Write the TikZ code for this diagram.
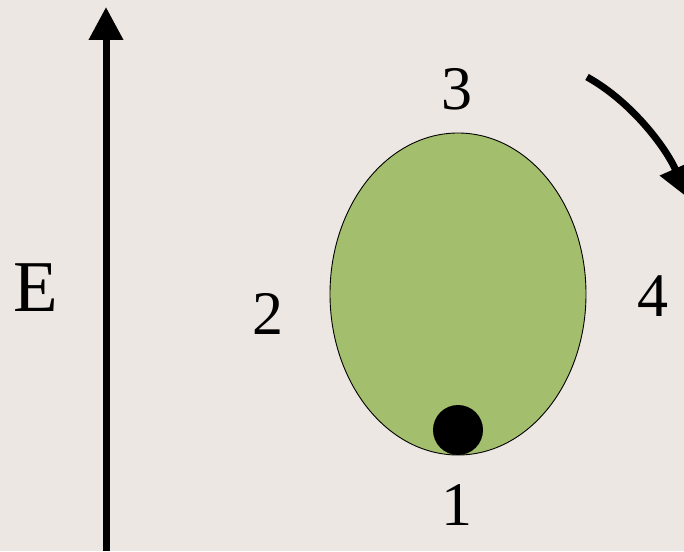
\documentclass[tikz,border=0pt]{standalone}
\usepackage{fontspec}
\setmainfont{Liberation Serif}
\usetikzlibrary{arrows.meta,shapes.geometric}
\definecolor{bg}{RGB}{237,231,227}
\definecolor{leaf}{RGB}{163,190,108}
\begin{document}
\begin{tikzpicture}[x=1pt,y=-1pt,
  lbl/.style={font=\fontsize{62}{64}\selectfont, inner sep=0pt},
  thick arrow/.style={line width=7pt, -{Triangle[length=33pt,width=33pt]}}]
\fill[bg] (0,0) rectangle (684,551);
\useasboundingbox (0,0) rectangle (684,551);
% E field arrow
\coordinate (ebot) at (106,551);
\coordinate (etop) at (106,7);
\draw[thick arrow] (ebot) -- (etop);
\node[lbl, font=\fontsize{73}{75}\selectfont] (E) at (36,288) {E};
% ellipse
\node[draw=black, line width=0.9pt, fill=leaf, ellipse, minimum width=256pt, minimum height=322pt, inner sep=0pt] (ell) at (458,294) {};
% ball
\node[circle, fill=black, minimum size=50pt, inner sep=0pt] (ball) at (458,430) {};
% labels
\node[lbl] (l3) at (457,89) {3};
\node[lbl] (l2) at (268,314) {2};
\node[lbl] (l4) at (653,296) {4};
\node[lbl] (l1) at (457,505) {1};
% rotation arrow
\coordinate (rs) at (587,77);
\coordinate (re) at (688,198);
\draw[line width=7pt, -{Triangle[length=32pt,width=32pt]}] (rs) .. controls (632,102) and (666,148) .. (re);
\end{tikzpicture}
\end{document}
